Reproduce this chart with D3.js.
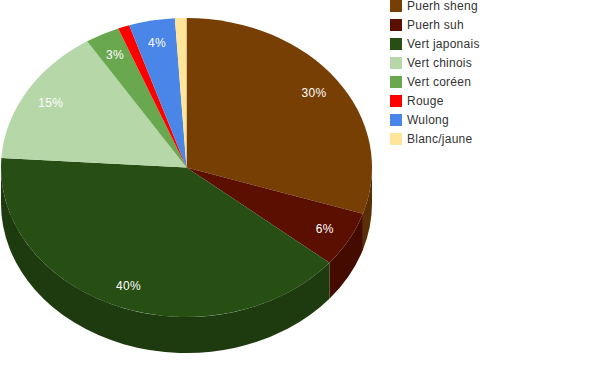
<!DOCTYPE html>
<html>
<head>
<meta charset="utf-8">
<script src="https://cdn.jsdelivr.net/npm/d3@7"></script>
<style>
  html, body { margin: 0; padding: 0; background: #fff; overflow: hidden; }
  svg { display: block; font-family: "Liberation Sans", Arial, sans-serif; }
</style>
</head>
<body>
<div id="chart"></div>
<script>
const categories = ["Puerh sheng", "Puerh suh", "Vert japonais", "Vert chinois", "Vert coréen", "Rouge", "Wulong", "Blanc/jaune"];
const values = [30, 6, 40, 15, 3, 1, 4, 1];
const colors = ["#783f04", "#5b0f00", "#274e13", "#b6d7a8", "#6aa84f", "#ff0000", "#4a86e8", "#ffe599"];

const width = 600, height = 371;
const cx = 186.5, cy = 167.5, rx = 185.5, ry = 149.5, depth = 36;

const svg = d3.select("#chart").append("svg")
  .attr("width", width)
  .attr("height", height);

const total = d3.sum(values);
const slices = d3.pie().sort(null).value(d => d)(values);

// the pie is a flat circle squashed into an ellipse
function px(a, k = 1) { return cx + rx * k * Math.sin(a); }
function py(a, k = 1) { return cy - ry * k * Math.cos(a); }

// outer wall of a slice, only the part facing front (90deg to 270deg)
function wallPath(d) {
  const a0 = Math.max(d.startAngle, Math.PI / 2);
  const a1 = Math.min(d.endAngle, Math.PI * 1.5);
  if (a1 <= a0) return null;
  const large = a1 - a0 > Math.PI ? 1 : 0;
  return `M${px(a0)},${py(a0)}`
    + `A${rx},${ry} 0 ${large} 1 ${px(a1)},${py(a1)}`
    + `L${px(a1)},${py(a1) + depth}`
    + `A${rx},${ry} 0 ${large} 0 ${px(a0)},${py(a0) + depth}Z`;
}

svg.append("g")
  .selectAll("path")
  .data(slices.filter(d => wallPath(d)))
  .enter()
  .append("path")
  .attr("d", wallPath)
  .attr("fill", d => d3.color(colors[d.index]).darker(0.8));

const arc = d3.arc().innerRadius(0).outerRadius(rx);

svg.append("g")
  .attr("transform", `translate(${cx},${cy}) scale(1,${ry / rx})`)
  .selectAll("path")
  .data(slices)
  .enter()
  .append("path")
  .attr("d", arc)
  .attr("fill", d => colors[d.index]);

// the 1% slices get no label
svg.append("g")
  .selectAll("text")
  .data(slices.filter(d => d.value / total > 0.02))
  .enter()
  .append("text")
  .attr("x", d => px((d.startAngle + d.endAngle) / 2, 0.85))
  .attr("y", d => py((d.startAngle + d.endAngle) / 2, 0.85) + 4.5)
  .attr("text-anchor", "middle")
  .attr("font-size", 12)
  .attr("letter-spacing", 0.3)
  .attr("fill", "#fff")
  .text(d => `${Math.round(d.value / total * 100)}%`);

const legendY = d3.scalePoint().domain(categories).range([0, 133]);

const legend = svg.append("g")
  .selectAll("g")
  .data(categories)
  .enter()
  .append("g")
  .attr("transform", d => `translate(390,${legendY(d)})`);

legend.append("rect")
  .attr("width", 12)
  .attr("height", 12)
  .attr("fill", (d, i) => colors[i]);

legend.append("text")
  .attr("x", 17)
  .attr("y", 10)
  .attr("font-size", 12)
  .attr("letter-spacing", 0.25)
  .attr("fill", "#333")
  .text(d => d);
</script>
</body>
</html>
